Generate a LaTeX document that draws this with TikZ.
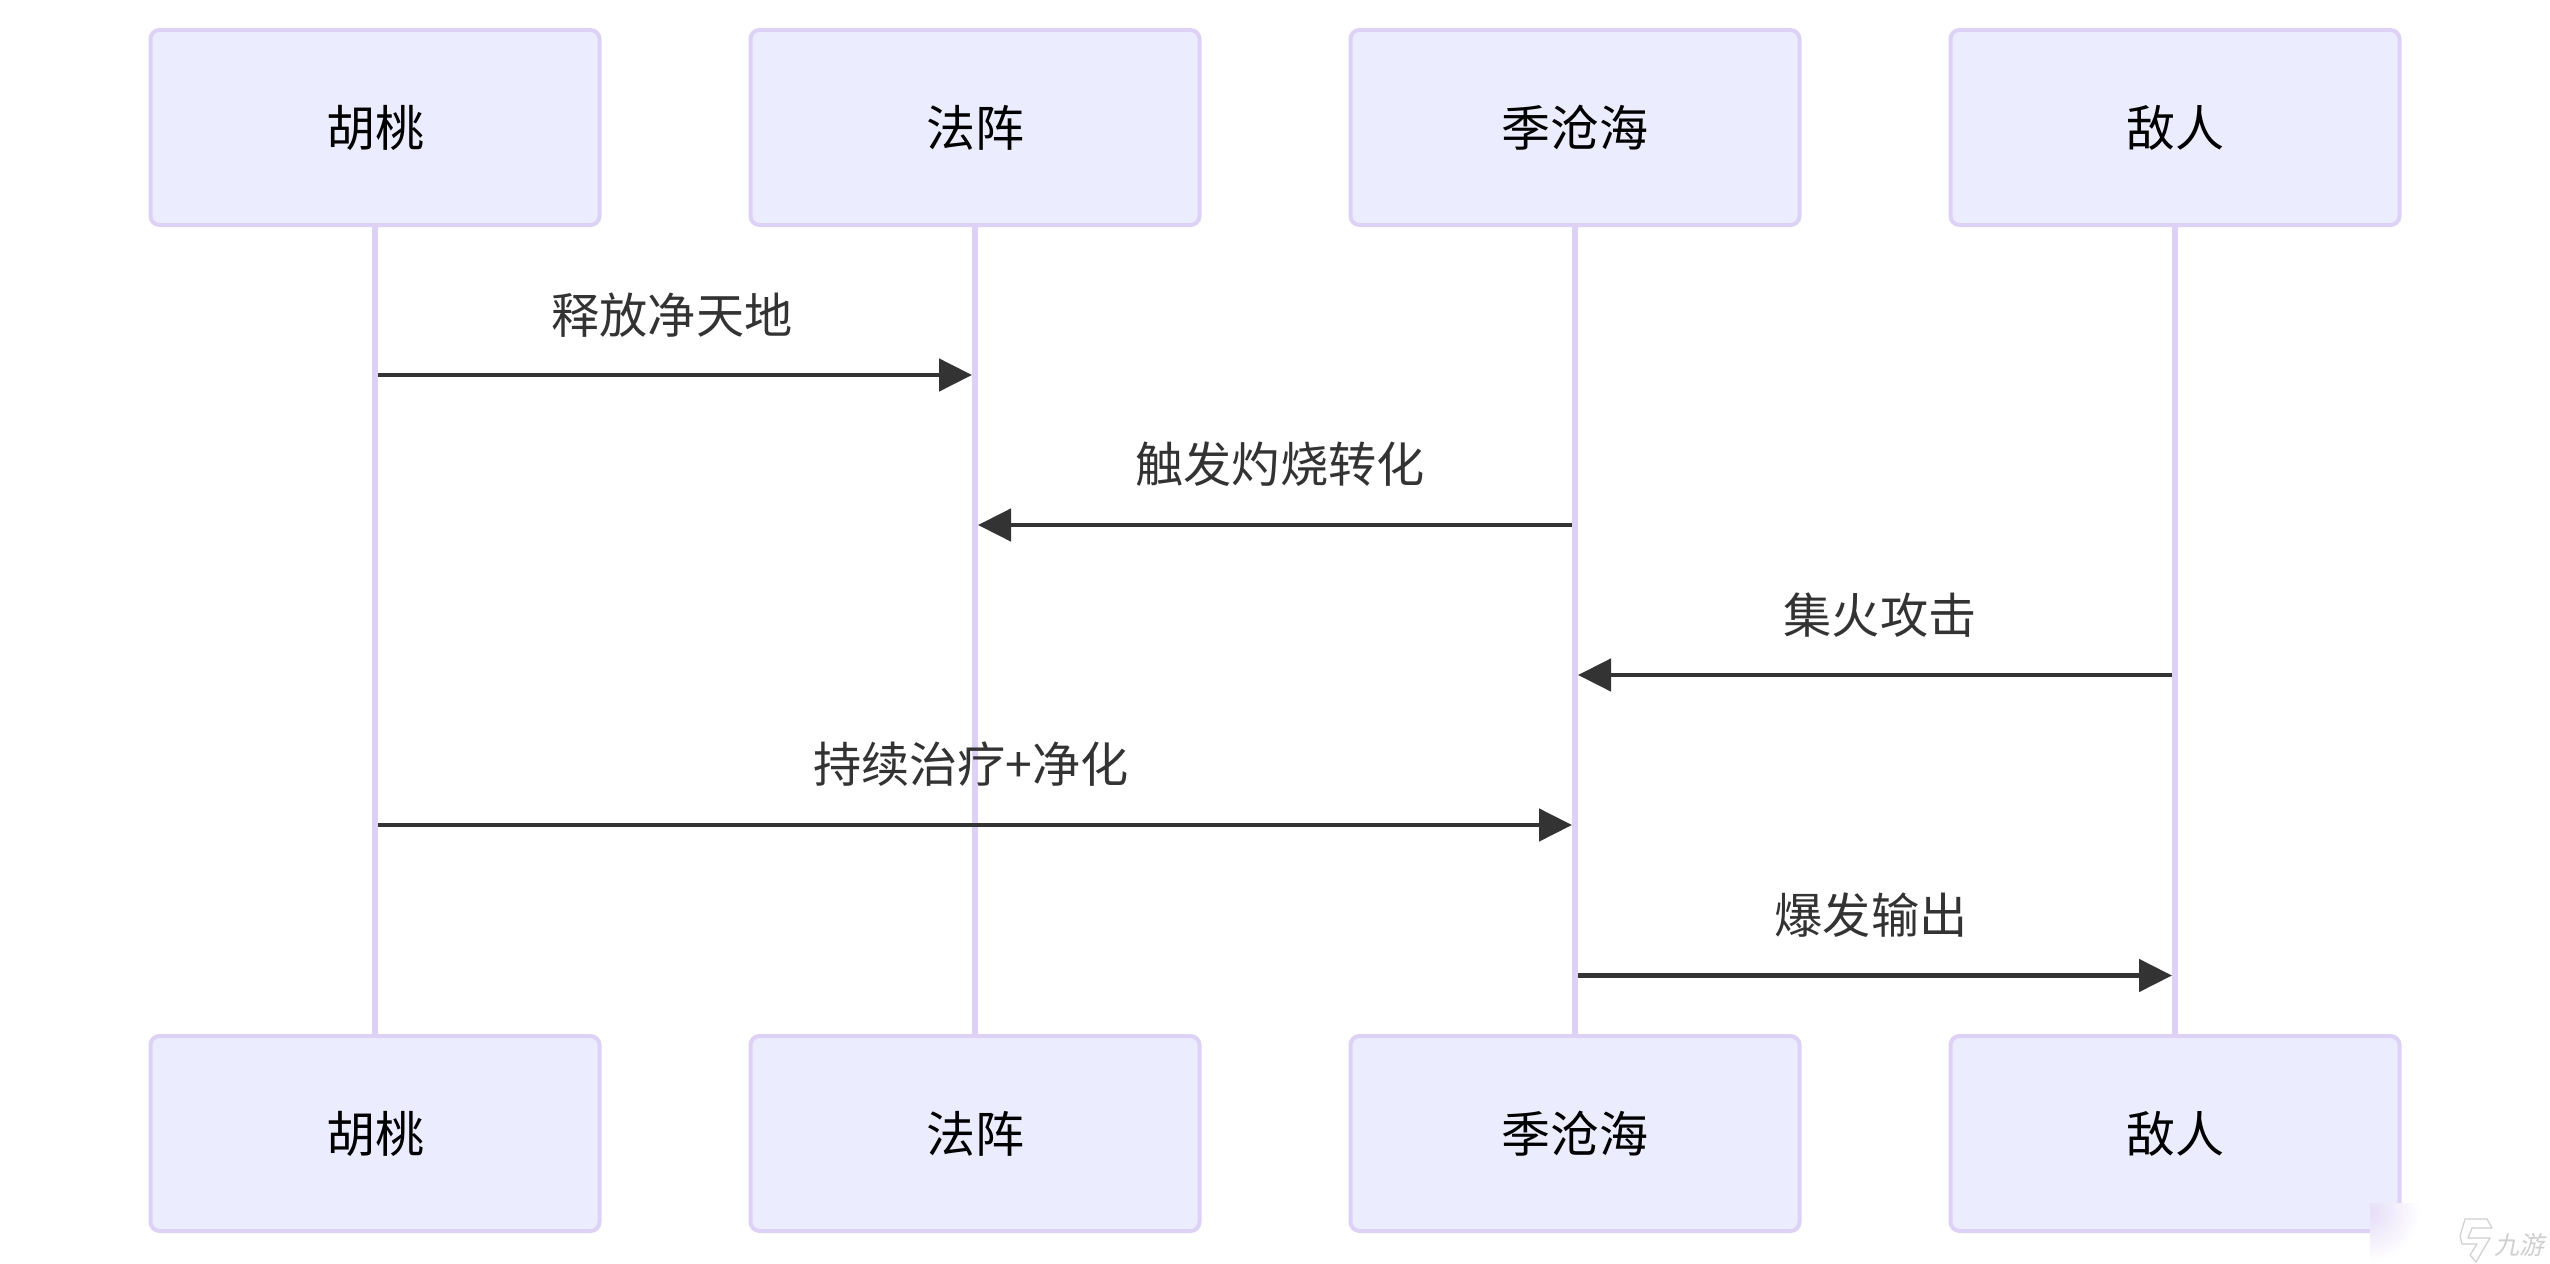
\documentclass[tikz,border=0pt]{standalone}
\usepackage{fontspec}
\setmainfont{Noto Sans CJK SC}
\usetikzlibrary{arrows.meta,calc}
\definecolor{boxfill}{HTML}{ECECFF}
\definecolor{boxline}{HTML}{DDD2F5}
\definecolor{lifeline}{HTML}{DDD2F5}
\definecolor{msgink}{HTML}{333333}
\definecolor{markink}{HTML}{CFCFCF}
\tikzset{
  actor/.style={draw=boxline,fill=boxfill,line width=4pt,rounded corners=9pt,minimum width=449pt,minimum height=195pt,inner sep=0pt,font=\fontsize{49}{49}\selectfont,text=black},
  life/.style={draw=lifeline,line width=6pt},
  msg/.style={draw=msgink,line width=4.8pt,-{Triangle[length=33pt,width=32pt]},shorten >=3pt,shorten <=3pt},
  msglabel/.style={font=\fontsize{48.2}{49}\selectfont,text=msgink,inner sep=0pt},
  wmark/.style={font=\fontsize{25}{25}\selectfont,text=markink,inner sep=0pt,xslant=0.2},
  wlogo/.style={draw=markink,line width=1.2pt,line join=round}
}
\begin{document}
\begin{tikzpicture}[x=1pt,y=-1pt]
\useasboundingbox (0,0) rectangle (2550,1263);
\fill[white] (0,0) rectangle (2550,1263);
% lifelines first
\coordinate (ha) at (375,226); \coordinate (hb) at (375,1035);
\coordinate (fa) at (975,226); \coordinate (fb) at (975,1035);
\coordinate (ja) at (1575,226); \coordinate (jb) at (1575,1035);
\coordinate (da) at (2175,226); \coordinate (db) at (2175,1035);
\draw[life] (ha) -- (hb);
\draw[life] (fa) -- (fb);
\draw[life] (ja) -- (jb);
\draw[life] (da) -- (db);
% actors
\node[actor] (hu) at (375,127.5) {胡桃};
\node[actor] (fz) at (975,127.5) {法阵};
\node[actor] (jc) at (1575,127.5) {季沧海};
\node[actor] (dr) at (2175,127.5) {敌人};
\node[actor] (hu2) at (375,1133.5) {胡桃};
\node[actor] (fz2) at (975,1133.5) {法阵};
\node[actor] (jc2) at (1575,1133.5) {季沧海};
\node[actor] (dr2) at (2175,1133.5) {敌人};
% message anchors
\coordinate (m1a) at (375,375); \coordinate (m1b) at (975,375);
\coordinate (m2a) at (1575,525); \coordinate (m2b) at (975,525);
\coordinate (m3a) at (2175,675); \coordinate (m3b) at (1575,675);
\coordinate (m4a) at (375,825); \coordinate (m4b) at (1575,825);
\coordinate (m5a) at (1575,975.5); \coordinate (m5b) at (2175,975.5);
\draw[msg] (m1a) -- (m1b);
\draw[msg] (m2a) -- (m2b);
\draw[msg] (m3a) -- (m3b);
\draw[msg] (m4a) -- (m4b);
\draw[msg] (m5a) -- (m5b);
\node[msglabel] (l1) at (672,315) {释放净天地};
\node[msglabel] (l2) at (1280,464) {触发灼烧转化};
\node[msglabel] (l3) at (1880,615) {集火攻击};
\node[msglabel] (l4) at (971,764) {持续治疗+净化};
\node[msglabel] (l5) at (1871,915) {爆发输出};
% watermark patch
\fill[white] (2370,1203) rectangle (2550,1263);
\begin{scope}
\clip (2370,1203) rectangle (2550,1263);
\shade[inner color=boxline!75!white,outer color=white] (2370,1212) circle[radius=50pt];
\end{scope}
\draw[wlogo] (2465,1219) -- (2487,1219) -- (2492,1228) -- (2472,1228) -- (2468,1238) -- (2490,1238) -- (2476,1262) -- (2470,1255) -- (2477,1244) -- (2462,1244) -- (2460,1236) -- cycle;
\node[wmark] (wm) at (2521,1245) {九游};
\end{tikzpicture}
\end{document}
